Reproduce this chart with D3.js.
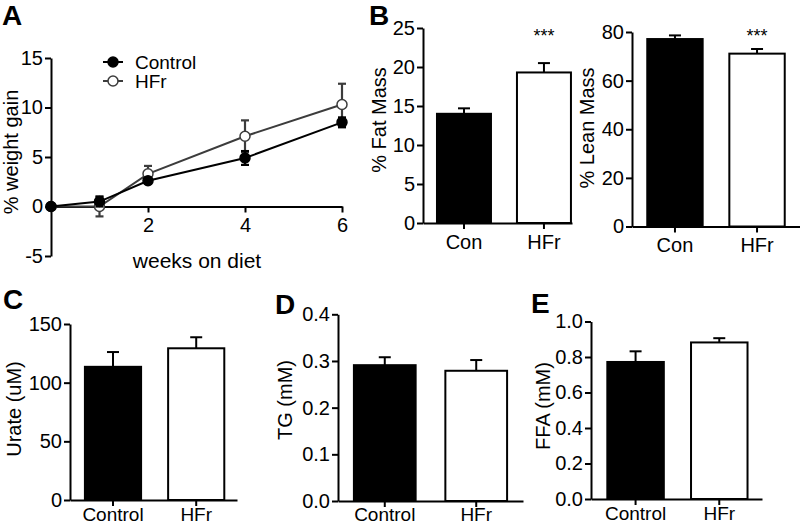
<!DOCTYPE html>
<html lang="en">
<head>
<meta charset="UTF-8">
<title>HFr panels</title>
<script src="https://d3js.org/d3.v7.min.js"></script>
<style>
    body {margin: 0; background: #fff;}
    svg {display: block; font-family: "Liberation Sans", Arial, sans-serif;}
    .axis path, .axis line {stroke: #000; stroke-width: 2;}
    .axis text {font-size: 20px; fill: #000;}
    .axis.small text {font-size: 19px;}
</style>
</head>
<body>
<svg id="fig" width="800" height="525"></svg>

<script>
// panel A - weight gain
let weeks = [0, 1, 2, 4, 6];
let ctrlGain = [0, 0.5, 2.6, 4.9, 8.5];
let ctrlErr = [0, 0.5, 0.3, 0.7, 0.5];
let hfrGain = [0, 0.0, 3.3, 7.1, 10.3];
let hfrErr = [0, 1.0, 0.8, 1.6, 2.1];
let gainTicks = [-5, 0, 5, 10, 15];
let weekTicks = [2, 4, 6];

// bar panels
let groupsShort = ["Con", "HFr"];
let groupsLong = ["Control", "HFr"];
let fatMass = [14.0, 19.3];
let fatErr = [0.7, 1.2];
let leanMass = [77.1, 71.1];
let leanErr = [1.5, 1.9];
let urate = [113.5, 129.3];
let urateErr = [12.6, 9.4];
let tg = [0.291, 0.279];
let tgErr = [0.017, 0.023];
let ffa = [0.772, 0.882];
let ffaErr = [0.06, 0.024];

let svg = d3.select("#fig");
svg.append("rect").attr("width", 800).attr("height", 525).attr("fill", "#fff");

// plain hyphen for negatives, like the original figure
let intFmt = d => String(d);

function letter(txt, x, y) {
    svg.append("text").attr("x", x).attr("y", y)
        .attr("font-size", 28).attr("font-weight", "bold").text(txt);
}

function yTitle(txt, x, y) {
    svg.append("text")
        .attr("transform", "translate(" + x + "," + y + ") rotate(-90)")
        .attr("text-anchor", "middle").attr("dy", "0.35em")
        .attr("font-size", 20).text(txt);
}

// ---------- panel A ----------
let xA = d3.scaleLinear().domain([0, 6]).range([51, 342]);
let yA = d3.scaleLinear().domain([-5, 15]).range([256, 58]);

svg.append("g").attr("class", "axis")
    .attr("transform", "translate(51,0)")
    .call(d3.axisLeft(yA).tickValues(gainTicks).tickFormat(intFmt)
        .tickSize(6).tickSizeOuter(0).tickPadding(2));
svg.append("g").attr("class", "axis")
    .attr("transform", "translate(0," + yA(0) + ")")
    .call(d3.axisBottom(xA).tickValues(weekTicks).tickFormat(intFmt)
        .tickSize(6).tickSizeOuter(0).tickPadding(5));

yTitle("% weight gain", 11, 152);
svg.append("text").attr("x", 197).attr("y", 268).attr("text-anchor", "middle")
    .attr("font-size", 21).text("weeks on diet");

function series(vals, errs, color, fill) {
    let pts = weeks.map((w, i) => ({w: w, v: vals[i], e: errs[i]}));
    svg.append("path").datum(pts)
        .attr("fill", "none").attr("stroke", color).attr("stroke-width", 2)
        .attr("d", d3.line().x(d => xA(d.w)).y(d => yA(d.v)));
    let eb = svg.append("g").selectAll("g").data(pts.filter(d => d.e > 0)).join("g")
        .attr("stroke", color).attr("stroke-width", 2.2);
    eb.append("line").attr("x1", d => xA(d.w)).attr("x2", d => xA(d.w))
        .attr("y1", d => yA(d.v - d.e)).attr("y2", d => yA(d.v + d.e));
    eb.append("line").attr("x1", d => xA(d.w) - 4).attr("x2", d => xA(d.w) + 4)
        .attr("y1", d => yA(d.v + d.e)).attr("y2", d => yA(d.v + d.e));
    eb.append("line").attr("x1", d => xA(d.w) - 4).attr("x2", d => xA(d.w) + 4)
        .attr("y1", d => yA(d.v - d.e)).attr("y2", d => yA(d.v - d.e));
    svg.append("g").selectAll("circle").data(pts).join("circle")
        .attr("cx", d => xA(d.w)).attr("cy", d => yA(d.v)).attr("r", 5)
        .attr("fill", fill).attr("stroke", color).attr("stroke-width", 1.5);
}
series(hfrGain, hfrErr, "#3c3c3c", "#fff");
series(ctrlGain, ctrlErr, "#000", "#000");

// legend
let legend = [["Control", "#000", "#000", 62], ["HFr", "#3c3c3c", "#fff", 81]];
legend.forEach(l => {
    svg.append("line").attr("x1", 103).attr("x2", 123).attr("y1", l[3]).attr("y2", l[3])
        .attr("stroke", l[1]).attr("stroke-width", 2);
    svg.append("circle").attr("cx", 113).attr("cy", l[3]).attr("r", 5)
        .attr("fill", l[2]).attr("stroke", l[1]).attr("stroke-width", 1.5);
    svg.append("text").attr("x", 135).attr("y", l[3]).attr("dy", "0.35em")
        .attr("font-size", 19).text(l[0]);
});
letter("A", 2, 25);

// ---------- bar panels ----------
function barPanel(c) {
    let x = d3.scaleBand().domain(c.cats).range([c.left, c.right])
        .paddingInner(0.325).paddingOuter(c.outer).align(c.align);
    let y = d3.scaleLinear().domain([0, c.max]).range([c.bottom, c.top]);
    let ticks = d3.range(0, c.max + c.step / 2, c.step);

    let bars = c.cats.map((k, i) => ({k: k, v: c.vals[i], e: c.errs[i], fill: i === 0 ? "#000" : "#fff"}));

    svg.append("g").selectAll("rect").data(bars).join("rect")
        .attr("x", d => x(d.k)).attr("width", x.bandwidth())
        .attr("y", d => y(d.v)).attr("height", d => y(0) - y(d.v))
        .attr("fill", d => d.fill).attr("stroke", "#000").attr("stroke-width", 2);

    let eb = svg.append("g").selectAll("g").data(bars).join("g")
        .attr("stroke", "#000").attr("stroke-width", 2);
    eb.append("line")
        .attr("x1", d => x(d.k) + x.bandwidth() / 2).attr("x2", d => x(d.k) + x.bandwidth() / 2)
        .attr("y1", d => y(d.v)).attr("y2", d => y(d.v + d.e));
    eb.append("line")
        .attr("x1", d => x(d.k) + x.bandwidth() / 2 - 6).attr("x2", d => x(d.k) + x.bandwidth() / 2 + 6)
        .attr("y1", d => y(d.v + d.e)).attr("y2", d => y(d.v + d.e));

    svg.append("g").attr("class", "axis")
        .attr("transform", "translate(" + c.left + ",0)")
        .call(d3.axisLeft(y).tickValues(ticks).tickFormat(d3.format(c.fmt))
            .tickSize(6).tickSizeOuter(0).tickPadding(2));
    svg.append("g").attr("class", "axis " + (c.cats === groupsLong ? "small" : ""))
        .attr("transform", "translate(0," + c.bottom + ")")
        .call(d3.axisBottom(x).tickSize(6).tickSizeOuter(0).tickPadding(c.labelPad));

    yTitle(c.title, c.titleX, c.titleY);

    if (c.stars) {
        svg.append("text").attr("x", x(c.cats[1]) + x.bandwidth() / 2).attr("y", y(c.starAt))
            .attr("text-anchor", "middle").attr("font-size", 18).text("***");
    }
}

barPanel({cats: groupsShort, vals: fatMass, errs: fatErr, max: 25, step: 5, fmt: "d",
    left: 423, right: 572, top: 28, bottom: 223, outer: 0.094, align: 0.93, labelPad: 6,
    title: "% Fat Mass", titleX: 379, titleY: 120, stars: true, starAt: 23.2});
barPanel({cats: groupsShort, vals: leanMass, errs: leanErr, max: 80, step: 20, fmt: "d",
    left: 632, right: 800, top: 32, bottom: 226.5, outer: 0.186, align: 0.5, labelPad: 5,
    title: "% Lean Mass", titleX: 587, titleY: 128, stars: true, starAt: 76});
barPanel({cats: groupsLong, vals: urate, errs: urateErr, max: 150, step: 50, fmt: "d",
    left: 70, right: 237, top: 324, bottom: 500, outer: 0.166, align: 0.54, labelPad: 2,
    title: "Urate (uM)", titleX: 14, titleY: 409});
barPanel({cats: groupsLong, vals: tg, errs: tgErr, max: 0.4, step: 0.1, fmt: ".1f",
    left: 338, right: 523, top: 314.3, bottom: 501, outer: 0.174, align: 0.5, labelPad: 1,
    title: "TG (mM)", titleX: 285, titleY: 400});
barPanel({cats: groupsLong, vals: ffa, errs: ffaErr, max: 1.0, step: 0.2, fmt: ".1f",
    left: 591, right: 762, top: 321.5, bottom: 499, outer: 0.184, align: 0.53, labelPad: 2,
    title: "FFA (mM)", titleX: 543, titleY: 406});

letter("B", 369, 25);
letter("C", 3, 309);
letter("D", 275, 314);
letter("E", 531, 313);
</script>
</body>
</html>
